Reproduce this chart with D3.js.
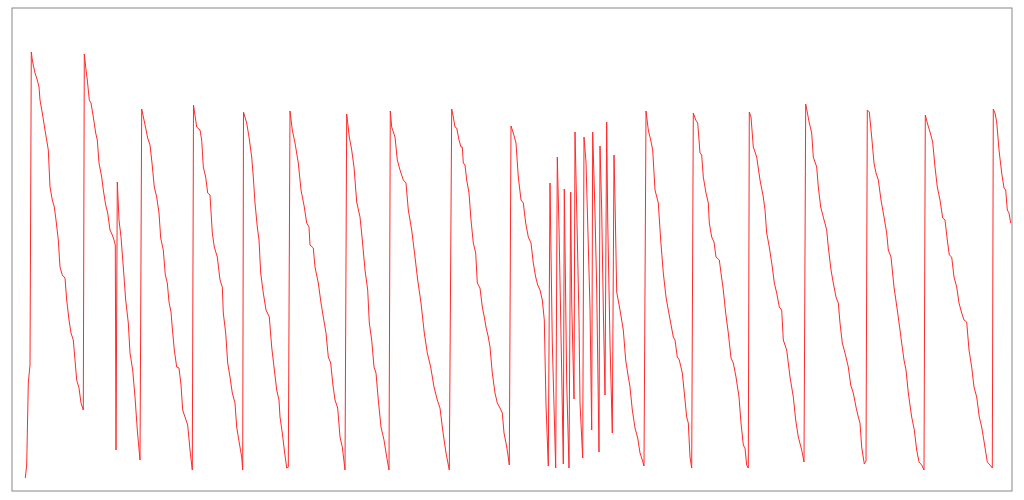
<!DOCTYPE html>
<html>
<head>
<meta charset="utf-8">
<script src="https://cdn.jsdelivr.net/npm/d3@7"></script>
<style>
  html, body { margin: 0; padding: 0; background: #fff; }
</style>
</head>
<body>
<div id="chart"></div>
<script>
// time positions (x) and signal values (y)
const times = [
  13.3,14.7,16.3,18,19.3,20.3,21.3,23,25.3,27,28,30.3,33,36.3,38,40.3,42.3,44,46.3,48,50.3,53,54.7,57,59,61.3,63,64.7,67,69,71.3,
  72.3,73.7,75.3,77.3,79,81.3,83.7,85.3,87,89.7,91.3,93.7,95.7,98,100.3,102,103.3,104,
  105.3,107,109,111.3,113.7,116.3,118,120.7,123,125.3,128,
  129.7,132,133.7,135.7,138,140,142.3,144.7,147,148.7,151.3,153.3,155.3,157,159,160.3,162.3,164.7,167,169,170.7,173,175.7,178,180.3,
  181.5,184.7,188,189.7,191.3,193.7,195.7,198,200.3,202.3,205.3,208,210.3,211.3,213.7,215.7,218,220.3,223,224.7,227.3,229.7,230.7,
  231.5,234.7,237,239.7,241.3,243,245.3,247,248.7,251.3,254,257.3,259.7,262,264.7,267,268,270.3,272.3,274.7,276.3,
  278,280.3,283,286.3,289,292.3,294.7,297,298,301.3,303,306.3,309,311.3,314,316.3,318.7,320.7,323,325.7,328,330.3,333,
  334.7,337.3,339.7,342,344.7,348,350.3,353,355.7,357.3,359.7,362,364,366.3,369,372,374.7,377,
  378.3,379.7,383,385.3,388,391.3,394,396.3,399.7,403,405.7,409,412.3,415.3,418.7,422,425.3,428,430.7,434,437.3,
  439.7,441.3,443,444.7,447,449,450.3,451.3,453,454.7,457,459,461.3,463.7,465.3,468,470.3,472.3,474,476.3,478,480.3,483,485.3,488,490.3,492,494,495.7,497.3,
  499,501.3,504,506.3,509,511.3,513.7,516.3,519,521.3,523.7,525.7,528,530.3,532.3,534,536.3,
  538,540.3,543.7,545.3,547,549.7,551.3,552.3,554.7,557,558.7,559.7,562,563,565.3,567,568,570.7,572,574,575.7,578,579.7,
  580.7,583,584.7,587,588,589.7,591.3,593,594.7,595.7,598,600.3,602,603,604.7,608,611.3,613.7,615.7,618,620.3,623,625.7,628,629.7,632,
  634,636.3,638.7,640.7,643,646.3,648.7,651.3,654,656.3,658.7,661.3,663,665.3,667.3,670.3,672.3,674.7,676.3,678,679.7,
  681.3,683.7,685.7,688,689.7,691.3,694,696.3,697.3,699.7,702,704,707.3,709,711.3,713.7,716.3,719,721.3,724,727,729,731.3,733,734.7,736.3,
  737.3,739,741.3,744.7,748,751.3,753,754.7,757.3,760.3,762.3,764.7,767.3,769.7,771.3,774.7,778,781.3,783.7,786.3,789.7,792,
  793.7,797.3,799.7,801.3,804.7,806.3,808.7,811.3,814.7,816.3,819,821.3,824,826.3,828,830.3,833,836.3,838.7,841.3,844,846.3,848,849.7,852.3,854,
  855.3,857.3,859.7,862,864,866.3,869,872,874.7,876.3,879,882,885.3,888,889.7,892,894,896.3,899.7,902.3,904.7,907,909.7,912,
  913.3,915.3,918,920.7,923,925.3,928,930.7,933,935.3,937.3,939.7,942,944.7,947,949.7,952,954.7,957,959.7,962,964.7,967.3,969.7,972.3,975.3,978,980.3,
  981.3,983,984.7,987,989.7,992,993.7,995.3,997,998.7
];
const values = [
  13,26,108,126,439,431,426,418,411,404,391,378,361,341,304,291,284,271,251,224,216,213,191,171,158,151,131,111,103,88,81,
  437,424,411,391,388,374,358,351,328,314,301,286,278,261,256,251,246,41,
  309,271,254,224,191,168,138,121,94,61,31,
  382,371,363,353,346,328,304,294,278,253,241,216,208,189,179,163,141,124,123,106,81,74,66,41,21,
  386,364,361,351,324,314,298,296,258,244,234,211,204,178,158,128,114,98,88,64,48,34,21,
  379,368,354,334,314,288,264,251,218,198,181,174,144,124,101,91,74,58,41,23,24,
  380,361,348,328,301,284,268,264,246,243,224,208,188,174,158,134,128,108,91,83,54,44,21,
  377,354,341,324,289,274,251,221,201,168,151,124,118,91,64,51,34,21,
  380,364,354,331,321,311,308,281,261,234,211,188,158,138,124,104,91,83,61,38,21,
  382,374,364,363,351,344,344,328,326,311,298,271,248,238,208,203,184,174,164,154,144,118,98,88,83,78,58,48,38,26,
  365,358,348,314,291,288,268,254,248,228,214,206,201,191,171,86,25,
  308,148,23,334,263,119,27,302,109,23,299,189,92,359,254,171,88,33,354,329,268,183,61,
  359,278,203,39,345,281,183,96,369,272,148,58,336,291,199,181,161,131,118,104,81,63,53,38,33,25,
  380,361,351,341,301,288,251,218,194,181,168,154,151,134,131,118,98,74,68,34,23,
  378,371,368,338,336,314,298,288,268,254,249,234,231,218,201,178,158,133,128,114,94,68,46,43,26,23,
  379,374,344,334,311,294,281,258,244,224,208,198,184,181,151,141,114,94,71,54,41,29,
  387,368,358,334,324,304,284,274,261,244,221,208,194,188,168,148,138,124,106,98,84,74,68,44,27,30,
  381,379,354,328,318,311,291,274,258,241,234,204,181,161,148,131,121,98,74,61,41,29,26,21,
  376,368,359,349,324,304,291,273,271,251,236,234,214,204,188,178,171,169,141,124,104,94,74,64,48,29,26,23,
  382,378,369,341,318,303,301,281,278,268
];

const data = times.map((t, i) => ({ t, v: values[i] }));

const W = 1024, H = 500;
const svg = d3.select("#chart").append("svg")
  .attr("width", W).attr("height", H);

const x = d3.scaleLinear().domain([0, 1000]).range([12, 1012]);
const y = d3.scaleLinear().domain([0, 483]).range([491, 8]);

svg.append("rect")
  .attr("x", x(0)).attr("y", y(483))
  .attr("width", x(1000) - x(0)).attr("height", y(0) - y(483))
  .attr("fill", "none").attr("stroke", "#888").attr("stroke-width", 1);

const line = d3.line().x(d => x(d.t)).y(d => y(d.v));

svg.append("path")
  .datum(data)
  .attr("d", line)
  .attr("fill", "none")
  .attr("stroke", "#ff2a2a")
  .attr("stroke-width", 1);
</script>
</body>
</html>
